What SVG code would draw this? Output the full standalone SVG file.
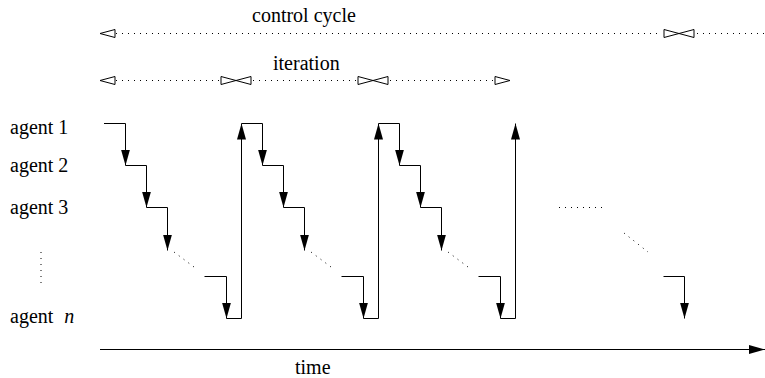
<svg xmlns="http://www.w3.org/2000/svg" width="765" height="378" viewBox="0 0 765 378">
<style>
text{font-size:20px;fill:#000}
.ln{fill:none;stroke:#000;stroke-width:1}
.dt{fill:none;stroke:#000;stroke-width:1;stroke-dasharray:1 5}
.ot{fill:#fff;stroke:#000;stroke-width:1}
</style>
<defs>
<marker id="ah" viewBox="0 0 16 9" refX="16" refY="4.5" markerWidth="16" markerHeight="9" markerUnits="userSpaceOnUse" orient="auto">
<path d="M0,0 L16,4.5 L0,9 Z" fill="#000"/>
</marker>
<path id="tl" d="M0,0 L15,-4 L15,4 Z"/>
<path id="tr" d="M0,0 L-15,-4 L-15,4 Z"/>
</defs>
<rect width="765" height="378" fill="#fff"/>
<g id="labels">
<text transform="translate(252,22)" font-family="'Liberation Serif', serif">control cycle</text>
<text transform="translate(273,70)" font-family="'Liberation Serif', serif">iteration</text>
<text x="10" y="134" font-family="'Liberation Serif', serif">agent 1</text>
<text x="10" y="172" font-family="'Liberation Serif', serif">agent 2</text>
<text x="10" y="214" font-family="'Liberation Serif', serif">agent 3</text>
<text x="10" y="323" font-family="'Liberation Serif', serif">agent <tspan font-style="italic" dx="6">n</tspan></text>
<text transform="translate(295,374)" font-family="'Liberation Serif', serif">time</text>
</g>
<g id="spans">
<use href="#tl" class="ot" x="100" y="33.5"/>
<path class="dt" d="M116,33.5 H662"/>
<use href="#tr" class="ot" x="679" y="33.5"/>
<use href="#tl" class="ot" x="679" y="33.5"/>
<path class="dt" d="M697,33.5 H765"/>
<use href="#tl" class="ot" x="100" y="80.5"/>
<path class="dt" d="M116,80.5 H220"/>
<use href="#tr" class="ot" x="236" y="80.5"/>
<use href="#tl" class="ot" x="236" y="80.5"/>
<path class="dt" d="M253,80.5 H357"/>
<use href="#tr" class="ot" x="373" y="80.5"/>
<use href="#tl" class="ot" x="373" y="80.5"/>
<path class="dt" d="M390,80.5 H494"/>
<use href="#tr" class="ot" x="510" y="80.5"/>
</g>
<g id="connectors">
<path class="ln" d="M104,123.5 H125.5 V165.5" marker-end="url(#ah)"/>
<path class="ln" d="M125.5,165.5 H146.5 V207.5" marker-end="url(#ah)"/>
<path class="ln" d="M146.5,207.5 H167.5 V250.5" marker-end="url(#ah)"/>
<path class="dt" d="M174,252 L198,270"/>
<path class="ln" d="M204.5,276.5 H226.5 V318.5" marker-end="url(#ah)"/>
<path class="ln" d="M226.5,318.5 H241.5 V123.5" marker-end="url(#ah)"/>
<path class="ln" d="M241.5,123.5 H262.5 V165.5" marker-end="url(#ah)"/>
<path class="ln" d="M262.5,165.5 H283.5 V207.5" marker-end="url(#ah)"/>
<path class="ln" d="M283.5,207.5 H304.5 V250.5" marker-end="url(#ah)"/>
<path class="dt" d="M311,252 L335,270"/>
<path class="ln" d="M341.5,276.5 H363.5 V318.5" marker-end="url(#ah)"/>
<path class="ln" d="M363.5,318.5 H378.5 V123.5" marker-end="url(#ah)"/>
<path class="ln" d="M378.5,123.5 H399.5 V165.5" marker-end="url(#ah)"/>
<path class="ln" d="M399.5,165.5 H420.5 V207.5" marker-end="url(#ah)"/>
<path class="ln" d="M420.5,207.5 H441.5 V250.5" marker-end="url(#ah)"/>
<path class="dt" d="M448,252 L472,270"/>
<path class="ln" d="M478.5,276.5 H500.5 V318.5" marker-end="url(#ah)"/>
<path class="ln" d="M500.5,318.5 H515.5 V123.5" marker-end="url(#ah)"/>
<path class="dt" d="M559,207.5 H604"/>
<path class="dt" d="M624,233 L648,252"/>
<path class="ln" d="M663.5,276.5 H684.5 V318.5" marker-end="url(#ah)"/>
<path class="dt" d="M41,252 V283"/>
<path class="ln" d="M100,349.5 H765" marker-end="url(#ah)"/>
</g>
</svg>
